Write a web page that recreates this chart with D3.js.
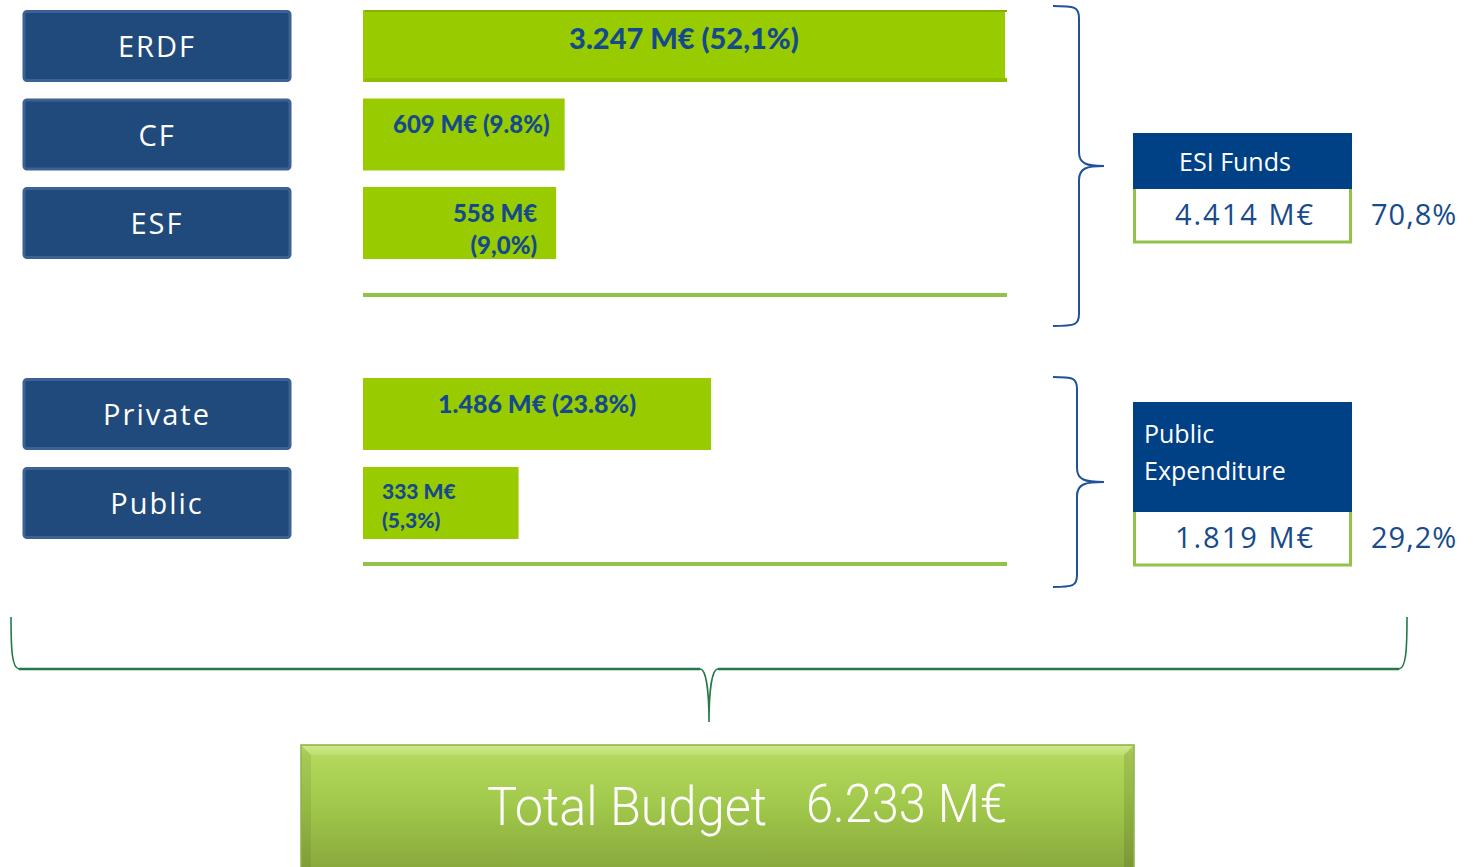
<!DOCTYPE html>
<html><head><meta charset="utf-8">
<script src="https://cdn.jsdelivr.net/npm/d3@7"></script>
<style>html,body{margin:0;padding:0;background:#fff;overflow:hidden}</style>
</head><body>
<svg id="chart" width="1475" height="867"></svg>
<script>
// ---- data ----
const esiNames = ["ERDF", "CF", "ESF"];
const esiValues = [3247, 609, 558];
const esiLabelLines = [["3.247 M€ (52,1%)"], ["609 M€ (9.8%)"], ["558 M€", "(9,0%)"]];
const pubNames = ["Private", "Public"];
const pubValues = [1486, 333];
const pubLabelLines = [["1.486 M€ (23.8%)"], ["333 M€", "(5,3%)"]];
const groupNames = ["ESI Funds", "Public Expenditure"];
const groupTitleLines = [["ESI Funds"], ["Public", "Expenditure"]];
const groupValues = ["4.414 M€", "1.819 M€"];
const groupShares = ["70,8%", "29,2%"];
const totalLabel = "Total Budget";
const totalValue = "6.233 M€";

// ---- styles ----
const BAR = "#99cc00", NAVY = "#214a7c", NAVY_EDGE = "#3c6193", TXT = "#144a8c",
      DARK = "#004085", LINEG = "#92c24a", BRACE_B = "#1f5296", BRACE_G = "#237a48";

const svg = d3.select("#chart");
const defs = svg.append("defs");
const g1 = defs.append("linearGradient").attr("id", "tot").attr("x1", 0).attr("y1", 0).attr("x2", 0).attr("y2", 1);
[[0, "#c9e879"], [0.07, "#b4d95c"], [0.45, "#a1c94b"], [1, "#87a53c"]].forEach(s =>
  g1.append("stop").attr("offset", s[0]).attr("stop-color", s[1]));

const barX0 = 363;
const wScale = d3.scaleLinear().domain([0, d3.max(esiValues)]).range([100, 642]);
const yEsi = d3.scalePoint().domain(esiNames).range([10, 187]);
const yPub = d3.scalePoint().domain(pubNames).range([378, 467]);
const rowH = 72;

// label layout inside the bars (style only)
const layoutEsi = [
  { anchor: "middle", size: 29, base: 39, gap: 0 },
  { anchor: "start", size: 24, base: 34, gap: 0, pad: 30 },
  { anchor: "end", size: 24, base: 35, gap: 32, pad: 19 }
];
const layoutPub = [
  { anchor: "middle", size: 25, base: 35, gap: 0 },
  { anchor: "start", size: 21, base: 32, gap: 29, pad: 19 }
];

function drawGroup(names, values, lines, yScale, layout) {
  const rows = svg.append("g").selectAll("g").data(names).join("g")
    .attr("transform", d => `translate(0,${yScale(d)})`);
  rows.append("rect").attr("x", 24).attr("y", 1.5).attr("width", 266).attr("height", rowH - 3)
    .attr("rx", 3).attr("fill", NAVY).attr("stroke", NAVY_EDGE).attr("stroke-width", 3);
  rows.append("text").attr("x", 157).attr("y", rowH / 2 + 11).attr("text-anchor", "middle")
    .attr("font-family", "Open Sans").attr("font-size", 29).attr("letter-spacing", 2)
    .attr("fill", "#fff").text(d => d);
  rows.append("rect").attr("x", barX0).attr("y", 0)
    .attr("width", (d, i) => wScale(values[i])).attr("height", rowH).attr("fill", BAR);
  rows.each(function (d, i) {
    const r = d3.select(this);
    const w = wScale(values[i]);
    const L = layout[i];
    const x = L.anchor === "middle" ? barX0 + w / 2 : L.anchor === "start" ? barX0 + L.pad : barX0 + w - L.pad;
    const t = r.append("text").attr("text-anchor", L.anchor).attr("font-family", "Lato").attr("font-weight", 900)
      .attr("font-size", L.size).attr("fill", TXT);
    lines[i].forEach((ln, k) => {
      t.append("tspan").attr("x", x).attr("y", L.base + k * L.gap).text(ln);
    });
  });
  return rows;
}

drawGroup(esiNames, esiValues, esiLabelLines, yEsi, layoutEsi);
svg.append("rect").attr("x", barX0 + 2).attr("y", yEsi("ERDF") + rowH - 4)
  .attr("width", wScale(esiValues[0])).attr("height", 4).attr("fill", "#8dbd00");
svg.append("rect").attr("x", barX0 + 2).attr("y", yEsi("ERDF"))
  .attr("width", wScale(esiValues[0])).attr("height", 2).attr("fill", "#86b000");
drawGroup(pubNames, pubValues, pubLabelLines, yPub, layoutPub);

[295, 564].forEach(y => svg.append("line").attr("x1", barX0).attr("x2", 1007)
  .attr("y1", y).attr("y2", y).attr("stroke", LINEG).attr("stroke-width", 4));

function vBrace(x0, xm, xt, yA, yB, yT) {
  const p = d3.path();
  p.moveTo(x0, yA);
  p.bezierCurveTo(xm - 4, yA, xm, yA + 1, xm, yA + 12);
  p.lineTo(xm, yT - 14);
  p.bezierCurveTo(xm, yT - 2, xm + 8, yT, xt, yT);
  p.bezierCurveTo(xm + 8, yT, xm, yT + 2, xm, yT + 14);
  p.lineTo(xm, yB - 12);
  p.bezierCurveTo(xm, yB - 1, xm - 4, yB, x0, yB);
  return p.toString();
}
svg.append("path").attr("d", vBrace(1053, 1079, 1104, 6, 326, 166))
  .attr("fill", "none").attr("stroke", BRACE_B).attr("stroke-width", 2);
svg.append("path").attr("d", vBrace(1053, 1077, 1104, 377, 587, 482))
  .attr("fill", "none").attr("stroke", BRACE_B).attr("stroke-width", 2);

const boxTops = [133, 402], boxMid = [189, 512];
groupNames.forEach((name, i) => {
  const gB = svg.append("g");
  gB.append("rect").attr("x", 1133).attr("y", boxTops[i]).attr("width", 219)
    .attr("height", boxMid[i] - boxTops[i]).attr("fill", DARK);
  const tl = groupTitleLines[i];
  const tt = gB.append("text").attr("font-family", "Open Sans").attr("font-size", 25).attr("fill", "#fff");
  if (tl.length === 1) {
    tt.append("tspan").attr("x", 1235).attr("y", boxTops[i] + 38).attr("text-anchor", "middle").text(tl[0]);
  } else {
    tl.forEach((ln, k) => tt.append("tspan").attr("x", 1144).attr("y", boxTops[i] + 41 + k * 37).text(ln));
  }
  gB.append("path").attr("d", `M1134.5,${boxMid[i]} V${boxMid[i] + 53} H1350.5 V${boxMid[i]}`)
    .attr("fill", "none").attr("stroke", LINEG).attr("stroke-width", 3);
  gB.append("text").attr("x", 1245).attr("y", boxMid[i] + 36).attr("text-anchor", "middle")
    .attr("font-family", "Open Sans").attr("font-size", 29).attr("letter-spacing", 2)
    .attr("fill", "#174b8c").text(groupValues[i]);
  gB.append("text").attr("x", 1371).attr("y", boxMid[i] + 36)
    .attr("font-family", "Open Sans").attr("font-size", 29).attr("letter-spacing", 1)
    .attr("fill", "#174b8c").text(groupShares[i]);
});

(function () {
  const p = d3.path();
  p.moveTo(11, 617);
  p.bezierCurveTo(11, 650, 12, 668, 19, 669);
  p.lineTo(700, 669);
  p.bezierCurveTo(706, 669, 709, 690, 709, 722);
  p.bezierCurveTo(709, 690, 712, 669, 718, 669);
  p.lineTo(1399, 669);
  p.bezierCurveTo(1406, 668, 1407, 650, 1407, 617);
  svg.append("path").attr("d", p.toString()).attr("fill", "none")
    .attr("stroke", BRACE_G).attr("stroke-width", 1.6);
  svg.append("line").attr("x1", 19).attr("x2", 700).attr("y1", 669).attr("y2", 669).attr("stroke", BRACE_G).attr("stroke-width", 2.5);
  svg.append("line").attr("x1", 718).attr("x2", 1399).attr("y1", 669).attr("y2", 669).attr("stroke", BRACE_G).attr("stroke-width", 2.5);
})();

const tot = svg.append("g");
tot.append("rect").attr("x", 301).attr("y", 745).attr("width", 833).attr("height", 130)
  .attr("fill", "url(#tot)").attr("stroke", "#8fae45").attr("stroke-width", 1.5);
tot.append("path").attr("d", "M302,746 L311,755 L311,867 L302,867 Z").attr("fill", "#000").attr("opacity", 0.07);
tot.append("path").attr("d", "M1133,746 L1124,755 L1124,867 L1133,867 Z").attr("fill", "#000").attr("opacity", 0.1);
tot.append("path").attr("d", "M302,746 L1133,746 L1124,755 L311,755 Z").attr("fill", "#fff").attr("opacity", 0.15);
tot.append("text").attr("x", 487).attr("y", 825).attr("font-family", "Roboto").attr("font-weight", 300)
  .attr("font-size", 54).attr("fill", "#fff").attr("textLength", 280).attr("lengthAdjust", "spacingAndGlyphs")
  .text(totalLabel);
tot.append("text").attr("x", 806).attr("y", 822).attr("font-family", "Roboto").attr("font-weight", 300)
  .attr("font-size", 54).attr("fill", "#fff").attr("textLength", 201).attr("lengthAdjust", "spacingAndGlyphs")
  .text(totalValue);
</script>
</body></html>
